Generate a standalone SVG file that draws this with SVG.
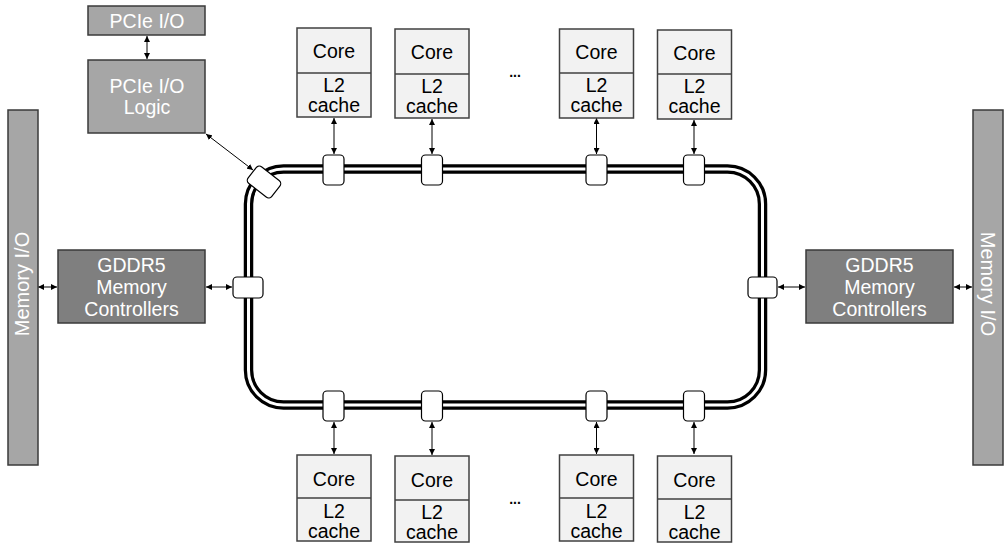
<svg xmlns="http://www.w3.org/2000/svg" width="1005" height="545" viewBox="0 0 1005 545">
<style>
text{font-family:"Liberation Sans",Arial,sans-serif;font-size:19.5px;text-anchor:middle}
.core{fill:#f2f2f2;stroke:#404040;stroke-width:1.5}
.pcie{fill:#a6a6a6;stroke:#3a3a3a;stroke-width:1.5}
.gddr{fill:#7f7f7f;stroke:#3a3a3a;stroke-width:1.5}
.wt{fill:#ffffff}
.dk{fill:#000000}
.rt{fill:#ffffff;stroke:#000;stroke-width:1.2}
.ar{stroke:#000;stroke-width:1;fill:none;marker-start:url(#ah);marker-end:url(#ah)}
.dots{font-size:14px;font-weight:bold}
</style>
<defs>
<marker id="ah" viewBox="0 0 6 6" refX="6" refY="3" markerWidth="6" markerHeight="6" orient="auto-start-reverse" markerUnits="userSpaceOnUse">
<path d="M0,0 L6,3 L0,6 z" fill="#000"/>
</marker>
</defs>
<rect width="1005" height="545" fill="#fff"/>

<g id="ring">
<rect x="248.5" y="169" width="514" height="236" rx="35" fill="none" stroke="#000" stroke-width="9.5"/>
<rect x="248.5" y="169" width="514" height="236" rx="35" fill="none" stroke="#fff" stroke-width="3"/>
</g>

<g id="connectors">
<line class="ar" x1="147" y1="36" x2="147" y2="59"/>
<line class="ar" x1="206" y1="134" x2="253" y2="170"/>
<line class="ar" x1="38" y1="287" x2="57" y2="287"/>
<line class="ar" x1="206" y1="287" x2="232" y2="287"/>
<line class="ar" x1="778" y1="287" x2="805" y2="287"/>
<line class="ar" x1="954" y1="287" x2="972" y2="287"/>
<line class="ar" x1="334" y1="118" x2="334" y2="154"/>
<line class="ar" x1="432" y1="119" x2="432" y2="154"/>
<line class="ar" x1="596.5" y1="118" x2="596.5" y2="154"/>
<line class="ar" x1="694" y1="120" x2="694" y2="154"/>
<line class="ar" x1="334" y1="422" x2="334" y2="454"/>
<line class="ar" x1="432" y1="422" x2="432" y2="455"/>
<line class="ar" x1="596.5" y1="422" x2="596.5" y2="454"/>
<line class="ar" x1="694" y1="422" x2="694" y2="454"/>
</g>

<g id="routers">
<rect class="rt" x="233" y="277" width="30" height="21" rx="4"/>
<rect class="rt" x="748" y="277" width="29" height="21" rx="4"/>
<rect class="rt" x="323" y="155" width="21" height="30" rx="4"/>
<rect class="rt" x="421.5" y="155" width="21" height="30" rx="4"/>
<rect class="rt" x="586" y="155" width="21" height="30" rx="4"/>
<rect class="rt" x="683.5" y="155" width="21" height="30" rx="4"/>
<rect class="rt" x="323" y="391" width="21" height="30" rx="4"/>
<rect class="rt" x="421.5" y="391" width="21" height="30" rx="4"/>
<rect class="rt" x="586" y="391" width="21" height="30" rx="4"/>
<rect class="rt" x="683.5" y="391" width="21" height="30" rx="4"/>
<rect class="rt" x="-15" y="-10.5" width="30" height="21" rx="4" transform="translate(264 182) rotate(38)"/>
</g>

<g id="pcie-io">
<rect class="pcie" x="88" y="6" width="117" height="29"/>
<text class="wt" x="147" y="28">PCIe I/O</text>
</g>
<g id="pcie-logic">
<rect class="pcie" x="88" y="60" width="117" height="73"/>
<text class="wt" x="147" y="93">PCIe I/O</text>
<text class="wt" x="147" y="114">Logic</text>
</g>

<g id="mem-io-left">
<rect class="pcie" x="8" y="110" width="30" height="355"/>
<text class="wt" style="font-size:20px" transform="translate(29 284) rotate(-90)">Memory I/O</text>
</g>
<g id="mem-io-right">
<rect class="pcie" x="973" y="110" width="30" height="355"/>
<text class="wt" style="font-size:20px" transform="translate(981 284) rotate(90)">Memory I/O</text>
</g>

<g id="gddr-left">
<rect class="gddr" x="58" y="250" width="147" height="73"/>
<text class="wt" x="131.5" y="272">GDDR5</text>
<text class="wt" x="131.5" y="294">Memory</text>
<text class="wt" x="131.5" y="316">Controllers</text>
</g>
<g id="gddr-right">
<rect class="gddr" x="806" y="250" width="147" height="73"/>
<text class="wt" x="879.5" y="272">GDDR5</text>
<text class="wt" x="879.5" y="294">Memory</text>
<text class="wt" x="879.5" y="316">Controllers</text>
</g>

<g id="core-t1">
<rect class="core" x="297" y="28" width="74" height="89"/>
<line x1="297" y1="73" x2="371" y2="73" stroke="#404040" stroke-width="1.5"/>
<text class="dk" x="334" y="58">Core</text>
<text class="dk" x="334" y="92">L2</text>
<text class="dk" x="334" y="112">cache</text>
</g>
<g id="core-t2">
<rect class="core" x="395" y="29" width="74" height="89"/>
<line x1="395" y1="74" x2="469" y2="74" stroke="#404040" stroke-width="1.5"/>
<text class="dk" x="432" y="59">Core</text>
<text class="dk" x="432" y="93">L2</text>
<text class="dk" x="432" y="113">cache</text>
</g>
<g id="core-t3">
<rect class="core" x="559.5" y="29" width="74" height="89"/>
<line x1="559.5" y1="73" x2="633.5" y2="73" stroke="#404040" stroke-width="1.5"/>
<text class="dk" x="596.5" y="59">Core</text>
<text class="dk" x="596.5" y="92">L2</text>
<text class="dk" x="596.5" y="112">cache</text>
</g>
<g id="core-t4">
<rect class="core" x="657.5" y="30" width="74" height="89"/>
<line x1="657.5" y1="74" x2="731.5" y2="74" stroke="#404040" stroke-width="1.5"/>
<text class="dk" x="694.5" y="60">Core</text>
<text class="dk" x="694.5" y="93">L2</text>
<text class="dk" x="694.5" y="113">cache</text>
</g>
<text class="dk dots" x="515" y="77">...</text>

<g id="core-b1">
<rect class="core" x="297" y="455" width="74" height="86"/>
<line x1="297" y1="498" x2="371" y2="498" stroke="#404040" stroke-width="1.5"/>
<text class="dk" x="334" y="486">Core</text>
<text class="dk" x="334" y="518">L2</text>
<text class="dk" x="334" y="538">cache</text>
</g>
<g id="core-b2">
<rect class="core" x="395" y="456" width="74" height="86"/>
<line x1="395" y1="500" x2="469" y2="500" stroke="#404040" stroke-width="1.5"/>
<text class="dk" x="432" y="487">Core</text>
<text class="dk" x="432" y="519">L2</text>
<text class="dk" x="432" y="539">cache</text>
</g>
<g id="core-b3">
<rect class="core" x="559.5" y="455" width="74" height="86"/>
<line x1="559.5" y1="498" x2="633.5" y2="498" stroke="#404040" stroke-width="1.5"/>
<text class="dk" x="596.5" y="486">Core</text>
<text class="dk" x="596.5" y="518">L2</text>
<text class="dk" x="596.5" y="538">cache</text>
</g>
<g id="core-b4">
<rect class="core" x="657.5" y="456" width="74" height="86"/>
<line x1="657.5" y1="499" x2="731.5" y2="499" stroke="#404040" stroke-width="1.5"/>
<text class="dk" x="694.5" y="487">Core</text>
<text class="dk" x="694.5" y="519">L2</text>
<text class="dk" x="694.5" y="539">cache</text>
</g>
<text class="dk dots" x="515" y="504">...</text>
</svg>
